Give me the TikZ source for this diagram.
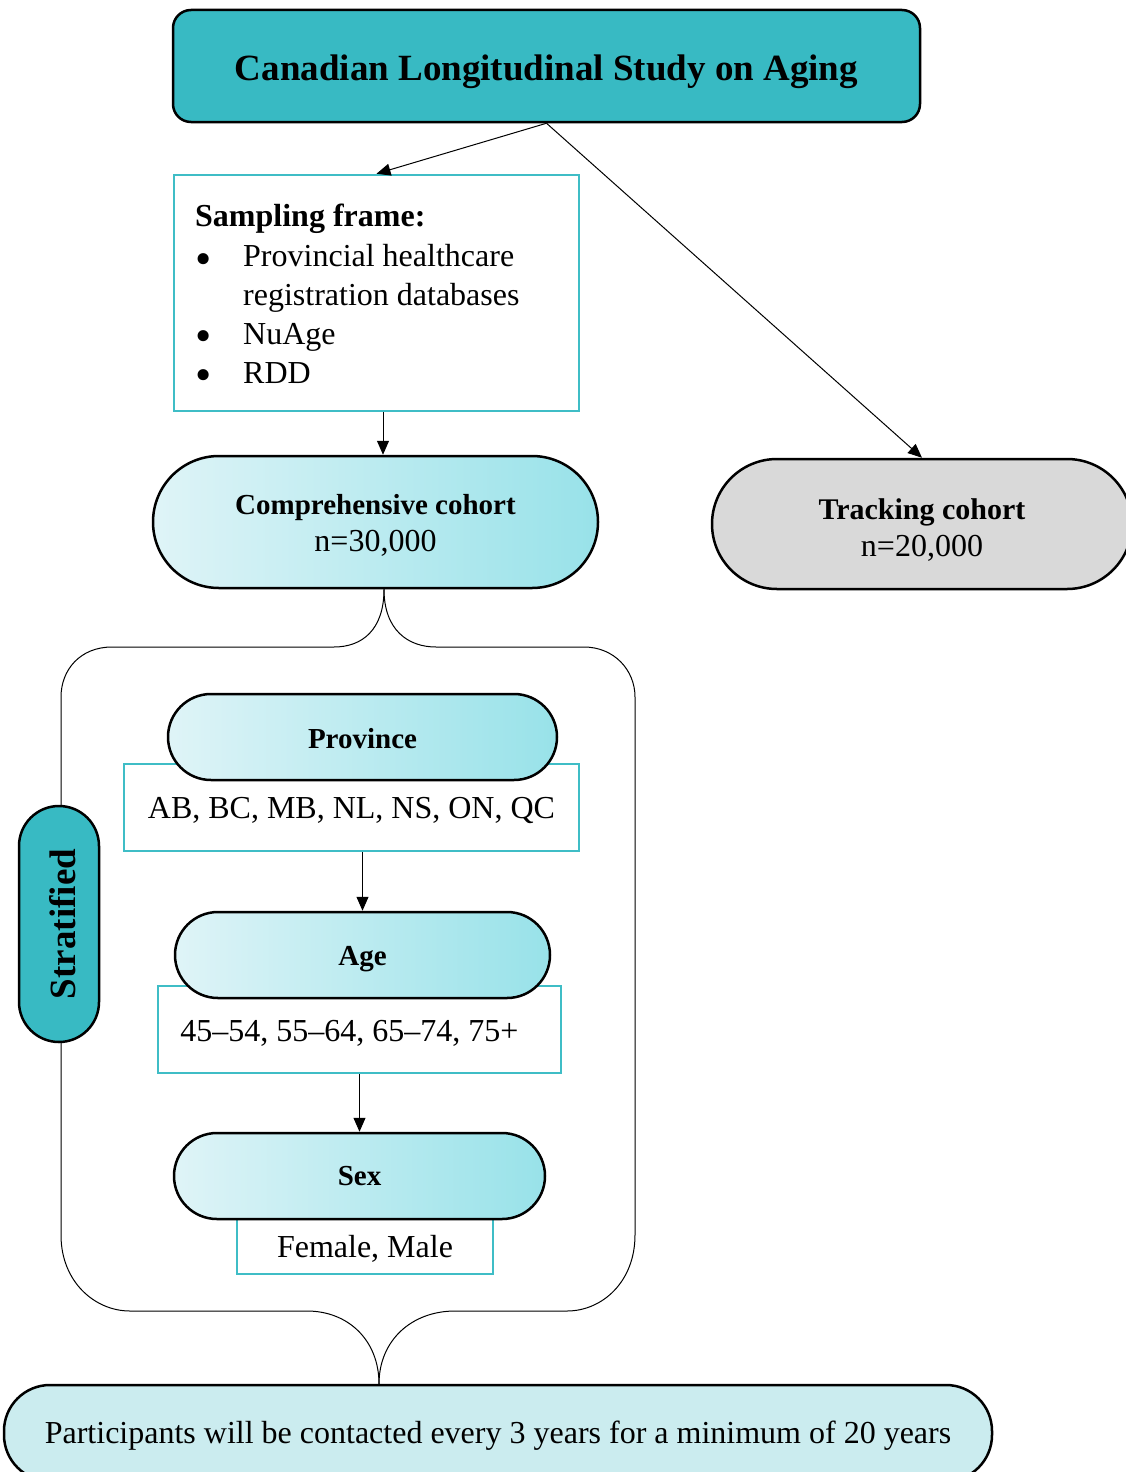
\documentclass[tikz,border=0pt]{standalone}
\usepackage{fontspec}
\setmainfont{Liberation Serif}
\usetikzlibrary{arrows.meta}
\definecolor{tealdark}{HTML}{38BAC3}
\definecolor{tealline}{HTML}{3FBDC6}
\definecolor{gradL}{HTML}{DFF4F7}
\definecolor{gradR}{HTML}{98E2E9}
\definecolor{graybox}{HTML}{D9D9D9}
\definecolor{lightbox}{HTML}{CBECEF}
\newcommand{\lowerby}[2]{\raisebox{-#1}[\height][\depth]{#2}}
\newcommand{\bigbul}{\makebox[48pt][l]{\raisebox{-7.5pt}[0pt][0pt]{\scalebox{1.45}{\textbullet}}}}
\begin{document}
\begin{tikzpicture}[x=1pt,y=-1pt,
  arr/.style={-{Triangle[length=14pt,width=12pt]}, line width=1pt},
  pill/.style={draw=black, line width=2.5pt, rounded corners=43pt, left color=gradL, right color=gradR,
    minimum height=86pt, inner sep=0pt, font=\fontsize{29}{34}\selectfont\bfseries},
  tealbox/.style={draw=tealline, line width=2.5pt, fill=white, inner sep=0pt, font=\fontsize{32}{38}\selectfont},
  bigpill/.style={draw=black, line width=2.5pt, inner sep=0pt, font=\fontsize{32}{37}\selectfont}
]
\useasboundingbox (0,0) rectangle (1126,1472);
\clip (0,0) rectangle (1126,1472);

% title
\node[draw=black, line width=2.5pt, fill=tealdark, rounded corners=18pt, minimum width=747pt, minimum height=112pt,
  inner sep=0pt, font=\fontsize{37}{44}\selectfont\bfseries] (title) at (546.5,66) {\lowerby{6pt}{Canadian Longitudinal Study on Aging}};

% sampling frame
\node[tealbox, minimum width=405pt, minimum height=236pt] (samp) at (376.5,293) {};
\node[anchor=north west, inner sep=0pt, align=left, font=\fontsize{32}{38.7}\selectfont] (samptext) at (195,204)
  {\textbf{Sampling frame:}\\[1.5pt]
   \bigbul Provincial healthcare\\
   \hspace*{48pt}registration databases\\
   \bigbul NuAge\\
   \bigbul RDD};

% cohorts
\node[bigpill, rounded corners=66pt, left color=gradL, right color=gradR, minimum width=445pt, minimum height=132pt] (comp) at (375.5,522)
  {\lowerby{4pt}{\begin{tabular}{@{}c@{}}{\fontsize{29}{37}\selectfont\bfseries Comprehensive cohort}\\n=30,000\end{tabular}}};
\node[bigpill, rounded corners=65pt, fill=graybox, minimum width=420pt, minimum height=130pt] (track) at (922,524)
  {\lowerby{7pt}{\begin{tabular}{@{}c@{}}{\fontsize{30}{37}\selectfont\bfseries Tracking cohort}\\n=20,000\end{tabular}}};

\draw[arr] (title.south) -- (samp.north);
\draw[arr] (title.south) -- (track.north);
\draw[arr] ([xshift=6.5pt]samp.south) -- ([xshift=6.5pt]samp.south |- comp.north);

% brace
\coordinate (bt) at ([xshift=8.5pt]comp.south);
\coordinate (bb) at (379,1384);
\draw[line width=1pt] (bt) .. controls (384,630) and (362,647) .. (334,647) -- (112,647)
  .. controls (80,647) and (61,670) .. (61,697) -- (61,1235)
  .. controls (61,1282) and (95,1311) .. (130,1311) -- (307,1311)
  .. controls (348,1311) and (379,1340) .. (bb);
\draw[line width=1pt] (bt) .. controls (384,630) and (408,647) .. (436,647) -- (584,647)
  .. controls (614,647) and (635,670) .. (635,697) -- (635,1235)
  .. controls (635,1282) and (602,1311) .. (567,1311) -- (455,1311)
  .. controls (412,1311) and (379,1340) .. (bb);

% stratified
\node[draw=black, line width=2.5pt, fill=tealdark, rounded corners=40pt, rotate=90, minimum width=236pt, minimum height=80pt,
  inner sep=0pt, font=\fontsize{37}{44}\selectfont\bfseries] (strat) at (59,924) {\lowerby{4pt}{Stratified}};

% province
\node[tealbox, minimum width=455pt, minimum height=87pt] (provbox) at (351.5,807.5) {\lowerby{3pt}{AB, BC, MB, NL, NS, ON, QC}};
\node[pill, minimum width=389pt] (provpill) at (362.5,737) {\lowerby{2pt}{Province}};
% age
\node[tealbox, minimum width=403pt, minimum height=87pt] (agebox) at (359.5,1029.5) {\hspace*{-20pt}\lowerby{4pt}{45–54, 55–64, 65–74, 75+}};
\node[pill, minimum width=375pt] (agepill) at (362.5,955) {\lowerby{4pt}{Age}};
% sex
\node[tealbox, minimum width=256pt, minimum height=62pt] (sexbox) at (365,1243) {\lowerby{6pt}{Female, Male}};
\node[pill, minimum width=371pt] (sexpill) at (359.5,1176) {Sex};

\draw[arr] (provpill.south |- provbox.south) -- (agepill.north);
\draw[arr] (agebox.south) -- (sexpill.north);

% bottom
\node[bigpill, rounded corners=46pt, fill=lightbox, minimum width=988pt, minimum height=96pt] (final) at (498,1433)
  {\lowerby{3pt}{Participants will be contacted every 3 years for a minimum of 20 years}};
\end{tikzpicture}
\end{document}
